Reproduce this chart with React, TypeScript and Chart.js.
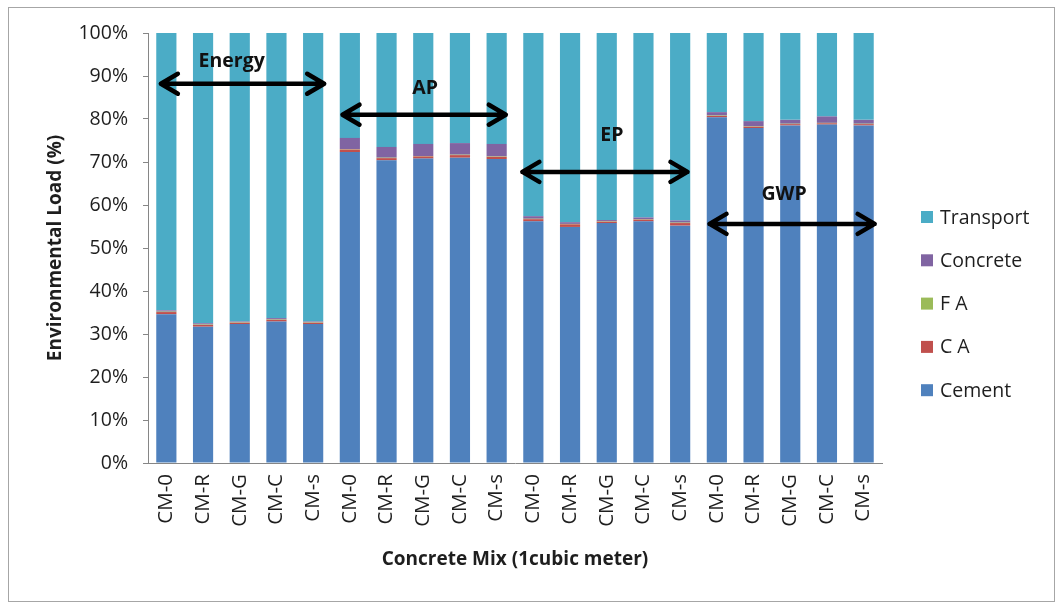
import React, { useEffect, useRef } from 'react';
import { Chart, registerables } from 'chart.js';

Chart.register(...registerables);

// Concrete mixes, repeated for each impact category
const mixLabels = [
  'CM-0', 'CM-R', 'CM-G', 'CM-C', 'CM-s',
  'CM-0', 'CM-R', 'CM-G', 'CM-C', 'CM-s',
  'CM-0', 'CM-R', 'CM-G', 'CM-C', 'CM-s',
  'CM-0', 'CM-R', 'CM-G', 'CM-C', 'CM-s',
];

// Share of the environmental load (%) per contributor
const cement = [
  34.6, 31.7, 32.3, 32.9, 32.3,
  72.3, 70.4, 70.8, 71.0, 70.7,
  56.2, 54.9, 55.8, 56.2, 55.2,
  80.4, 77.9, 78.5, 78.7, 78.5,
];
const coarseAgg = [
  0.5, 0.4, 0.3, 0.4, 0.3,
  0.6, 0.5, 0.5, 0.6, 0.5,
  0.5, 0.6, 0.3, 0.4, 0.6,
  0.3, 0.3, 0.3, 0.3, 0.3,
];
const fineAgg = [
  0.1, 0.1, 0.1, 0.1, 0.1,
  0.1, 0.1, 0.1, 0.1, 0.1,
  0.1, 0.1, 0.1, 0.1, 0.1,
  0.1, 0.1, 0.1, 0.1, 0.1,
];
const concreteProd = [
  0.3, 0.3, 0.2, 0.3, 0.2,
  2.6, 2.5, 2.8, 2.7, 2.9,
  0.6, 0.4, 0.3, 0.4, 0.5,
  0.8, 1.2, 0.9, 1.5, 0.9,
];
const transport = [
  64.5, 67.5, 67.1, 66.3, 67.1,
  24.4, 26.5, 25.8, 25.6, 25.8,
  42.6, 44.0, 43.5, 42.9, 43.6,
  18.4, 20.5, 20.2, 19.4, 20.2,
];

// Impact category brackets (category index span and level in %)
const groupNames = ['Energy', 'AP', 'EP', 'GWP'];
const arrowStart = [-0.15, 4.8, 9.7, 14.8];
const arrowEnd = [4.3, 9.25, 14.2, 19.3];
const arrowLevel = [88.2, 81.0, 67.7, 55.6];
const nameAt = [1.78, 7.05, 12.14, 16.83];
const nameLevel = [93.5, 87.2, 76.2, 62.4];

const FAMILY = "'Open Sans', sans-serif";
const TEXT = '#1e1e1e';
const AXIS = '#868686';

const sideLegend = {
  id: 'sideLegend',
  afterDraw(chart: any) {
    const ctx = chart.ctx as CanvasRenderingContext2D;
    const items = chart.data.datasets.slice().reverse();
    ctx.save();
    ctx.font = `19.5px ${FAMILY}`;
    ctx.textAlign = 'left';
    ctx.textBaseline = 'middle';
    items.forEach((d: any, i: number) => {
      const y = 217 + i * 43.3;
      ctx.fillStyle = d.backgroundColor;
      ctx.fillRect(921, y - 6, 12, 12);
      ctx.fillStyle = TEXT;
      ctx.fillText(d.label, 940, y + 1);
    });
    ctx.restore();
  },
};

const groupArrows = {
  id: 'groupArrows',
  afterDatasetsDraw(chart: any) {
    const ctx = chart.ctx as CanvasRenderingContext2D;
    const xs = chart.scales.x;
    const ys = chart.scales.y;
    ctx.save();
    ctx.strokeStyle = '#000';
    ctx.fillStyle = '#111';
    ctx.lineWidth = 4.5;
    ctx.lineCap = 'round';
    ctx.lineJoin = 'round';
    groupNames.forEach((name, i) => {
      const x1 = xs.getPixelForValue(arrowStart[i]);
      const x2 = xs.getPixelForValue(arrowEnd[i]);
      const y = ys.getPixelForValue(arrowLevel[i]);
      const hl = 17;
      const hw = 10;
      ctx.beginPath();
      ctx.moveTo(x1, y);
      ctx.lineTo(x2, y);
      ctx.moveTo(x1 + hl, y - hw);
      ctx.lineTo(x1, y);
      ctx.lineTo(x1 + hl, y + hw);
      ctx.moveTo(x2 - hl, y - hw);
      ctx.lineTo(x2, y);
      ctx.lineTo(x2 - hl, y + hw);
      ctx.stroke();
      ctx.font = `bold 19.5px ${FAMILY}`;
      ctx.textAlign = 'center';
      ctx.textBaseline = 'middle';
      ctx.fillText(name, xs.getPixelForValue(nameAt[i]), ys.getPixelForValue(nameLevel[i]));
    });
    ctx.restore();
  },
};

export default function App() {
  const ref = useRef<HTMLCanvasElement>(null);

  useEffect(() => {
    if (!ref.current) return;
    const chart = new Chart(ref.current, {
      type: 'bar',
      data: {
        labels: mixLabels,
        datasets: [
          { label: 'Cement', data: cement, backgroundColor: '#4F81BD' },
          { label: 'C A', data: coarseAgg, backgroundColor: '#C0504D' },
          { label: 'F A', data: fineAgg, backgroundColor: '#9BBB59' },
          { label: 'Concrete', data: concreteProd, backgroundColor: '#8064A2' },
          { label: 'Transport', data: transport, backgroundColor: '#4BACC6' },
        ],
      },
      options: {
        responsive: false,
        animation: false,
        devicePixelRatio: 1,
        layout: { padding: { top: 33, right: 174, left: 0, bottom: 0 } },
        datasets: { bar: { barPercentage: 0.55, categoryPercentage: 1 } },
        scales: {
          x: {
            stacked: true,
            grid: { display: false, drawTicks: false },
            border: { display: true, color: AXIS, width: 1 },
            ticks: {
              autoSkip: false,
              maxRotation: 90,
              minRotation: 90,
              padding: 11,
              color: TEXT,
              font: { family: FAMILY, size: 20.5 },
            },
            title: {
              display: true,
              text: 'Concrete Mix (1cubic meter)',
              color: TEXT,
              font: { family: FAMILY, size: 19, weight: 'bold' },
              padding: { top: 0, bottom: 32 },
            },
            afterFit(scale: any) {
              scale.height = 140;
            },
          },
          y: {
            stacked: true,
            min: 0,
            max: 100,
            grid: { drawOnChartArea: false, drawTicks: true, tickLength: 5, color: AXIS },
            border: { display: true, color: AXIS, width: 1 },
            ticks: {
              stepSize: 10,
              padding: 15,
              color: TEXT,
              font: { family: FAMILY, size: 19.5 },
              callback: (v: any) => `${v}%`,
            },
            title: {
              display: true,
              text: 'Environmental Load (%)',
              color: TEXT,
              font: { family: FAMILY, size: 19, weight: 'bold' },
              padding: { top: 44, bottom: 0 },
            },
            afterFit(scale: any) {
              scale.width = 148;
            },
          },
        },
        plugins: {
          legend: { display: false },
          tooltip: { enabled: false },
        },
      } as any,
      plugins: [groupArrows, sideLegend],
    });
    return () => chart.destroy();
  }, []);

  return (
    <div style={{ position: 'fixed', left: 0, top: 0, width: 1056, height: 603, background: '#fff' }}>
      <div
        style={{
          position: 'absolute',
          left: 8,
          top: 7,
          width: 1047,
          height: 595,
          boxSizing: 'border-box',
          border: '1px solid #a6a6a6',
        }}
      />
      <canvas ref={ref} width={1056} height={603} style={{ position: 'absolute', left: 0, top: 0 }} />
    </div>
  );
}
